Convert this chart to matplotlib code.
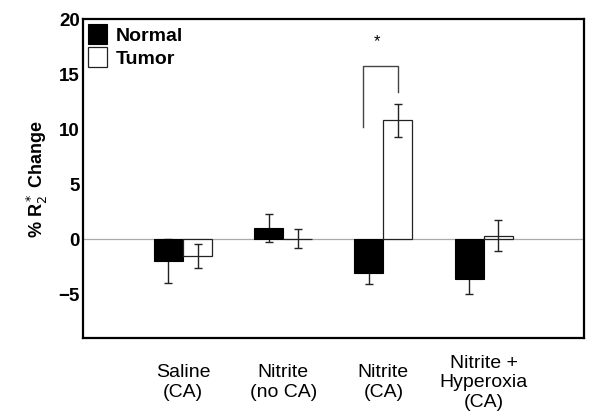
import matplotlib
matplotlib.use("Agg")
import matplotlib.pyplot as plt
import numpy as np

plt.rcParams['font.family'] = ['Liberation Sans', 'DejaVu Sans']

groups = ['Saline\n(CA)', 'Nitrite\n(no CA)', 'Nitrite\n(CA)', 'Nitrite +\nHyperoxia\n(CA)']
normal = [-2.0, 1.0, -3.05, -3.6]
normal_err = [2.0, 1.25, 1.0, 1.4]
tumor = [-1.5, 0.05, 10.8, 0.3]
tumor_err = [1.1, 0.85, 1.5, 1.4]

# significance bracket between normal and tumor of Nitrite (CA)
bracket_x = [1.80, 1.80, 2.15, 2.15]
bracket_y = [10.2, 15.7, 15.7, 13.35]
star_pos = (1.94, 18.0)

x = np.arange(len(groups))
w = 0.29

fig = plt.figure(figsize=(6, 4.17), dpi=100)
ax = fig.add_axes([0.138, 0.189, 0.835, 0.765])

ax.axhline(0, color='#aaaaaa', lw=0.9, zorder=0)
# normal error bars sit behind the black bars
ax.errorbar(x - w / 2, normal, yerr=normal_err, fmt='none', ecolor='#222222', elinewidth=1.0,
            capsize=3, capthick=1.0, zorder=1)
ax.bar(x - w / 2, normal, w, color='black', edgecolor='black', lw=0.8, label='Normal', zorder=2)
ax.bar(x + w / 2, tumor, w, color='white', edgecolor='#222222', lw=0.9, label='Tumor', zorder=2)
ax.errorbar(x + w / 2, tumor, yerr=tumor_err, fmt='none', ecolor='#222222', elinewidth=1.0,
            capsize=3, capthick=1.0, zorder=3)

ax.plot(bracket_x, bracket_y, color='#444444', lw=1.0)
ax.text(star_pos[0], star_pos[1], '*', ha='center', va='center', fontsize=12)

ax.set_xlim(-1, 4)
ax.set_ylim(-9, 20)
ax.set_yticks([-5, 0, 5, 10, 15, 20])
ax.set_yticklabels(['\u22125', '0', '5', '10', '15', '20'], fontsize=13.5, fontweight='bold')
ax.set_xticks(x, groups, fontsize=14, linespacing=1.2)
for lab in ax.get_xticklabels():
    lab.set_va('center')
ax.tick_params(axis='x', length=0, pad=32)
ax.tick_params(axis='y', length=0, pad=2)
for s in ax.spines.values():
    s.set_linewidth(1.6)

ax.set_ylabel('% R$_2^*$ Change', fontsize=13, fontweight='bold', labelpad=6)

leg = ax.legend(loc='upper left', frameon=False, prop={'weight': 'bold', 'size': 14},
                handlelength=1.0, handleheight=1.2, handletextpad=0.45, labelspacing=0.15,
                borderaxespad=0.15, borderpad=0.1)

fig.savefig('out.png', dpi=100)
